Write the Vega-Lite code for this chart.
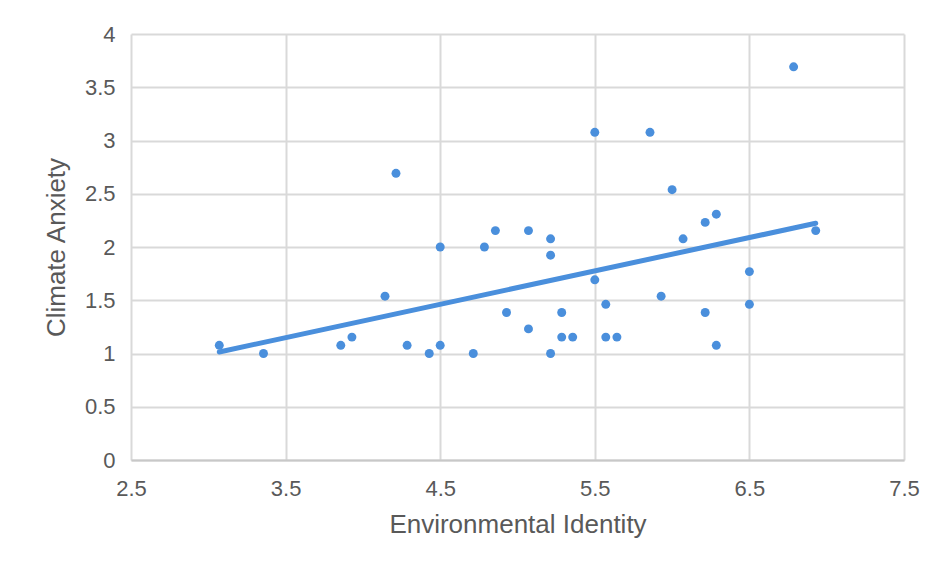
{
  "$schema": "https://vega.github.io/schema/vega-lite/v6.json",
  "autosize": {"type": "none"},
  "width": 773,
  "height": 426,
  "padding": {"left": 131, "top": 34, "right": 32, "bottom": 111},
  "background": "white",
  "config": {
    "view": {"stroke": null},
    "font": "Liberation Sans",
    "axis": {
      "gridColor": "#d9d9d9",
      "gridWidth": 2,
      "domain": false,
      "ticks": false,
      "labelFont": "Liberation Sans",
      "labelFontSize": 22,
      "labelColor": "#595959",
      "labelFlush": false,
      "titleFont": "Liberation Sans",
      "titleFontSize": 26,
      "titleFontWeight": "normal",
      "titleColor": "#595959"
    }
  },
  "data": {
    "values": [
      {"ei": 3.071, "ca": 1.077},
      {"ei": 3.357, "ca": 1.0},
      {"ei": 3.857, "ca": 1.077},
      {"ei": 3.929, "ca": 1.154},
      {"ei": 4.143, "ca": 1.538},
      {"ei": 4.214, "ca": 2.692},
      {"ei": 4.286, "ca": 1.077},
      {"ei": 4.429, "ca": 1.0},
      {"ei": 4.5, "ca": 1.077},
      {"ei": 4.5, "ca": 2.0},
      {"ei": 4.714, "ca": 1.0},
      {"ei": 4.786, "ca": 2.0},
      {"ei": 4.857, "ca": 2.154},
      {"ei": 4.929, "ca": 1.385},
      {"ei": 5.071, "ca": 2.154},
      {"ei": 5.071, "ca": 1.231},
      {"ei": 5.214, "ca": 2.077},
      {"ei": 5.214, "ca": 1.923},
      {"ei": 5.214, "ca": 1.0},
      {"ei": 5.286, "ca": 1.385},
      {"ei": 5.286, "ca": 1.154},
      {"ei": 5.357, "ca": 1.154},
      {"ei": 5.5, "ca": 3.077},
      {"ei": 5.5, "ca": 1.692},
      {"ei": 5.571, "ca": 1.462},
      {"ei": 5.571, "ca": 1.154},
      {"ei": 5.643, "ca": 1.154},
      {"ei": 5.857, "ca": 3.077},
      {"ei": 5.929, "ca": 1.538},
      {"ei": 6.0, "ca": 2.538},
      {"ei": 6.071, "ca": 2.077},
      {"ei": 6.214, "ca": 2.231},
      {"ei": 6.214, "ca": 1.385},
      {"ei": 6.286, "ca": 2.308},
      {"ei": 6.286, "ca": 1.077},
      {"ei": 6.5, "ca": 1.769},
      {"ei": 6.5, "ca": 1.462},
      {"ei": 6.786, "ca": 3.692},
      {"ei": 6.929, "ca": 2.154}
    ]
  },
  "encoding": {
    "x": {
      "field": "ei",
      "type": "quantitative",
      "scale": {"domain": [2.5, 7.5], "nice": false, "zero": false},
      "axis": {
        "title": "Environmental Identity",
        "values": [2.5, 3.5, 4.5, 5.5, 6.5, 7.5],
        "format": ".1f",
        "domain": true,
        "domainColor": "#c8c8c8",
        "domainWidth": 2,
        "labelPadding": 18,
        "titlePadding": 12
      }
    },
    "y": {
      "field": "ca",
      "type": "quantitative",
      "scale": {"domain": [0, 4], "nice": false},
      "axis": {
        "title": "Climate Anxiety",
        "values": [0, 0.5, 1, 1.5, 2, 2.5, 3, 3.5, 4],
        "format": "~g",
        "labelPadding": 16,
        "titlePadding": 15
      }
    }
  },
  "layer": [
    {
      "mark": {"type": "circle", "size": 80, "color": "#4a8fdc", "opacity": 1}
    },
    {
      "transform": [{"regression": "ca", "on": "ei"}],
      "mark": {"type": "line", "color": "#4a8fdc", "strokeWidth": 5, "strokeCap": "round"}
    }
  ]
}
